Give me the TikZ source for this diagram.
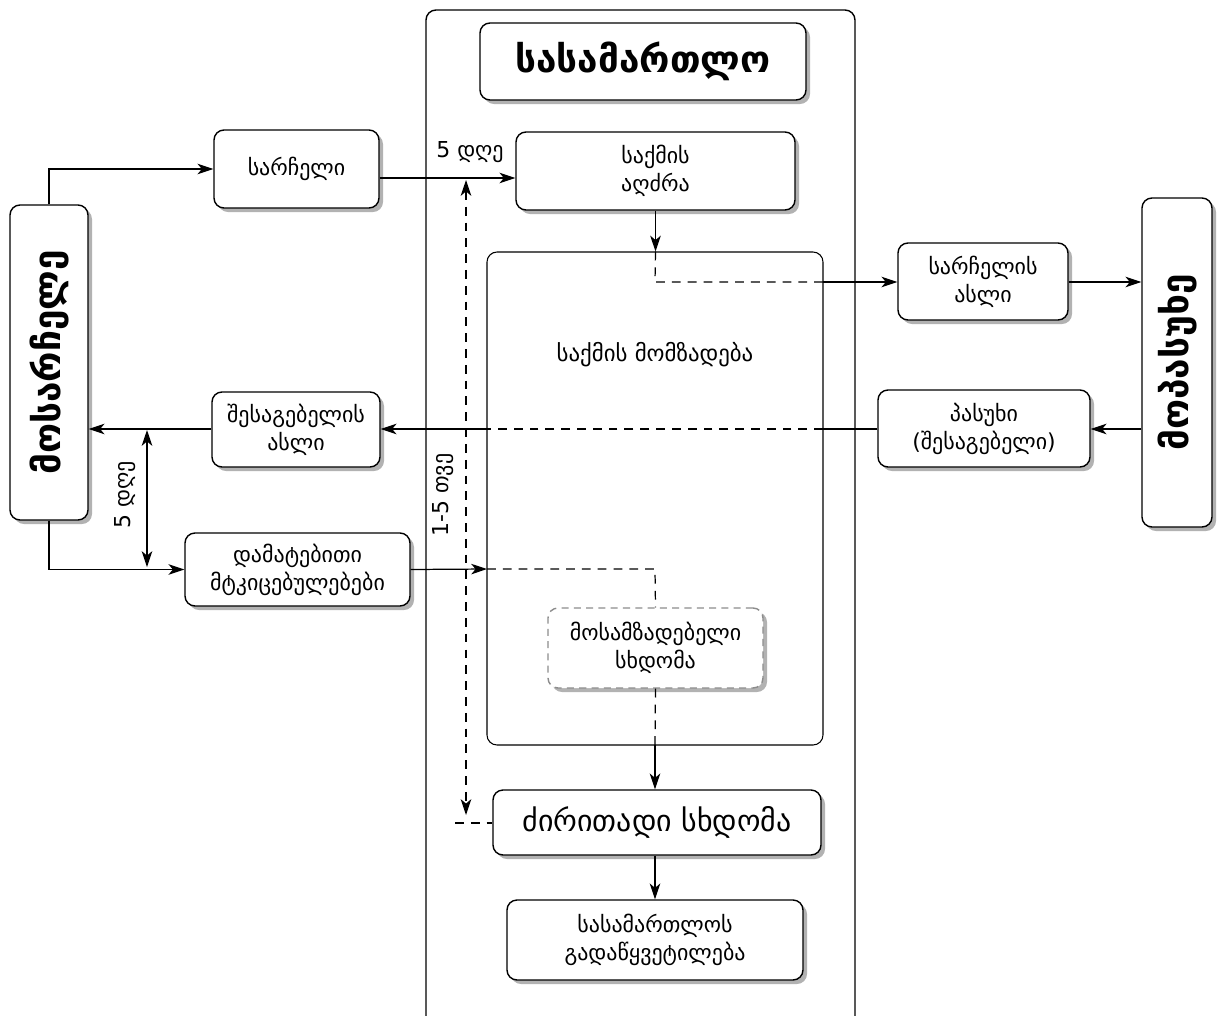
\documentclass[tikz,border=0pt]{standalone}
\usepackage{fontspec}
\setmainfont{DejaVu Sans}
\usetikzlibrary{shadows,arrows.meta,calc}
\begin{document}
\begin{tikzpicture}[x=0.02cm,y=-0.02cm,
  every node/.style={inner sep=0pt},
  shad/.style={drop shadow={shadow xshift=0.08cm,shadow yshift=-0.08cm,fill=black!30,opacity=1}},
  box/.style={draw,line width=0.8pt,rounded corners=0.2cm,fill=white,shad,align=center,
     font=\fontsize{12.5}{16}\selectfont},
  bigbox/.style={box,font=\fontsize{21}{24}\selectfont\bfseries},
  arr/.style={line width=0.7pt,-{Stealth[length=9pt,width=6pt,inset=2.5pt]}},
  darr/.style={line width=0.7pt,{Stealth[length=9pt,width=6pt,inset=2.5pt]}-{Stealth[length=9pt,width=6pt,inset=2.5pt]}},
  ln/.style={line width=0.7pt},
  dsh/.style={line width=0.7pt,dash pattern=on 5pt off 4pt},
  lbl/.style={font=\fontsize{12.5}{14}\selectfont}
]
\useasboundingbox (0,0) rectangle (1221,1015);
% container
\node[draw,line width=0.8pt,rounded corners=0.2cm,minimum width=429*0.02cm,minimum height=1040*0.02cm] (court) at (640.5,530) {};
\node[bigbox,minimum width=326*0.02cm,minimum height=77*0.02cm] (title) at (643,61.5) {სასამართლო};
\node[box,minimum width=279*0.02cm,minimum height=78*0.02cm] (aghdzra) at (655.5,171) {საქმის\\აღძრა};
\node[box,minimum width=165*0.02cm,minimum height=78*0.02cm] (sarcheli) at (296.5,169) {სარჩელი};
\node[draw,line width=0.6pt,rounded corners=0.2cm,minimum width=336*0.02cm,minimum height=493*0.02cm] (prep) at (655,498.5) {};
\node[font=\fontsize{13}{16}\selectfont] (preplbl) at (655,355) {საქმის მომზადება};
\node[box,minimum width=170*0.02cm,minimum height=77*0.02cm] (sasli) at (983,281.5) {სარჩელის\\ასლი};
\node[bigbox,minimum width=70*0.02cm,minimum height=329*0.02cm] (mopas) at (1177,362.5) {};
\node[font=\fontsize{21}{24}\selectfont\bfseries,rotate=90] (mopaslbl) at (mopas) {მოპასუხე};
\node[bigbox,minimum width=78*0.02cm,minimum height=315*0.02cm] (mosar) at (49,362.5) {};
\node[font=\fontsize{21}{24}\selectfont\bfseries,rotate=90] (mosarlbl) at (mosar) {მოსარჩელე};
\node[box,minimum width=212*0.02cm,minimum height=77*0.02cm] (pasukhi) at (984,428.5) {პასუხი\\(შესაგებელი)};
\node[box,minimum width=168*0.02cm,minimum height=75*0.02cm] (shesasli) at (296,429.5) {შესაგებელის\\ასლი};
\node[box,minimum width=225*0.02cm,minimum height=73*0.02cm] (damat) at (297.5,569.5) {დამატებითი\\მტკიცებულებები};
\node[box,draw=black!45,dash pattern=on 4pt off 3pt,minimum width=215*0.02cm,minimum height=80*0.02cm] (mosamz) at (655.5,648) {მოსამზადებელი\\სხდომა};
\node[box,font=\fontsize{17}{20}\selectfont,minimum width=328*0.02cm,minimum height=65*0.02cm] (dzir) at (657,822.5) {ძირითადი სხდომა};
\node[box,minimum width=296*0.02cm,minimum height=80*0.02cm] (gadats) at (655,940) {სასამართლოს\\გადაწყვეტილება};
% labels
\node[lbl] (l5a) at (470,152) {5 დღე};
\node[lbl,rotate=90] (l15) at (443,495) {1-5 თვე};
\node[lbl,rotate=90] (l5b) at (125,495) {5 დღე};
% helper coordinates
\coordinate (p1) at (655,282);
\coordinate (p2) at (823,282);
\coordinate (q1) at (823,429);
\coordinate (q2) at (487,429);
\coordinate (s1) at (487,569);
\coordinate (s2) at (655,569);
\coordinate (t1) at (655,745);
\coordinate (v1) at (466,180);
\coordinate (v2) at (466,815);
\coordinate (w1) at (455,823);
\coordinate (d1) at (147,430);
\coordinate (d2) at (147,567);
% connectors
\draw[arr] (mosar.north) |- (sarcheli.west);
\draw[arr] ($(sarcheli.east)+(0,9)$) -- ($(aghdzra.west)+(0,7)$);
\draw[arr] (aghdzra.south) -- (prep.north -| aghdzra.south);
\draw[dsh] (prep.north -| aghdzra.south) -- (p1) -- (p2);
\draw[arr] (p2) -- (sasli.west |- p2);
\draw[arr] (sasli.east |- p2) -- (mopas.west |- p2);
\draw[arr] (mopas.west |- q1) -- (pasukhi.east |- q1);
\draw[ln] (pasukhi.west |- q1) -- (q1);
\draw[dsh] (q1) -- (q2);
\draw[arr] (q2) -- (shesasli.east |- q2);
\draw[arr] (shesasli.west |- q2) -- (mosar.east |- q2);
\draw[darr] (d1) -- (d2);
\draw[arr] (mosar.south) |- (damat.west);
\draw[arr] (damat.east) -- (s1);
\draw[dsh] (s1) -- (s2) -- (mosamz.north);
\draw[dsh] (mosamz.south) -- (t1);
\draw[arr] (t1) -- (dzir.north -| t1);
\draw[dsh,{Stealth[length=9pt,width=6pt,inset=2.5pt]}-{Stealth[length=9pt,width=6pt,inset=2.5pt]}] (v1) -- (v2);
\draw[dsh] (w1) -- (w1 -| dzir.west);
\draw[arr] (dzir.south -| gadats.north) -- (gadats.north);
\end{tikzpicture}
\end{document}
